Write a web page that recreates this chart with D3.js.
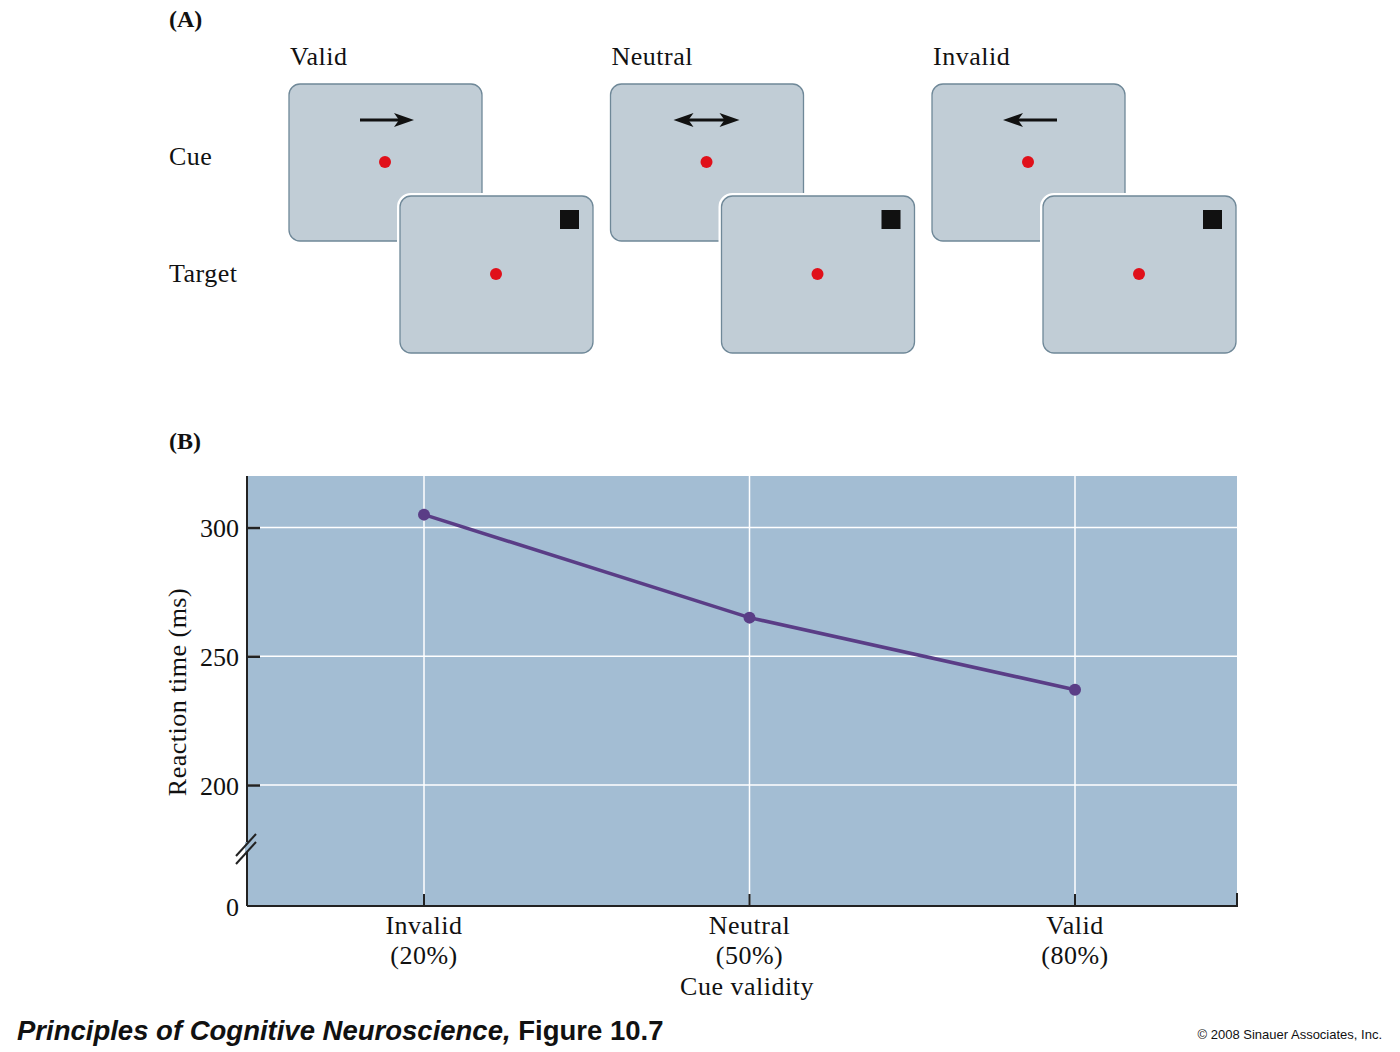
<!DOCTYPE html>
<html><head><meta charset="utf-8">
<script src="https://cdn.jsdelivr.net/npm/d3@7"></script>
<style>body{margin:0;background:#fff}svg{display:block}</style>
</head><body>
<svg id="c" width="1400" height="1052"></svg>
<script>
// ---- data ----
const conditions = ["Valid", "Neutral", "Invalid"];
const cueArrows = ["right", "both", "left"];
const rowLabels = ["Cue", "Target"];
const categories = ["Invalid", "Neutral", "Valid"];
const validityPct = [20, 50, 80];
const pctLabels = ["(20%)", "(50%)", "(80%)"];
const reactionTime = [305, 265, 237];
const yTicks = [0, 200, 250, 300];

const svg = d3.select("#c");
const serif = "'Liberation Serif', 'DejaVu Serif', serif";
const sans = "'Liberation Sans', Arial, sans-serif";
const boxFill = "#c1cdd6", boxStroke = "#6f8898";
const plotFill = "#a3bdd3", lineCol = "#5a3d86";
const FS = 26, LS = 0.5;

function txt(sel) {
  return sel.attr("font-family", serif).attr("font-size", FS).attr("letter-spacing", LS).attr("fill", "#111");
}

// ---- Panel A ----
svg.append("text").attr("x", 169).attr("y", 27).attr("font-family", serif)
  .attr("font-weight", "bold").attr("font-size", 24).attr("fill", "#111").text("(A)");
const rowY = [165, 282];
rowLabels.forEach((t, i) => txt(svg.append("text").attr("x", 169).attr("y", rowY[i])).text(t));

const colX = d3.scalePoint().domain(conditions).range([289, 932]);
const bw = 193, bh = 157, dx = 111, dy = 112;

function arrowHead(g, tipX, y, dir) {
  const L = 20, H = 7, notch = 5;
  const s = dir === "right" ? -1 : 1;
  g.append("path").attr("d",
    `M${tipX},${y} L${tipX + s * L},${y - H} L${tipX + s * (L - notch)},${y} L${tipX + s * L},${y + H} Z`)
    .attr("fill", "#111");
}

conditions.forEach((c, i) => {
  const x0 = colX(c), y0 = 84;
  const g = svg.append("g");
  txt(g.append("text").attr("x", x0 + 1).attr("y", 65)).text(c);
  // cue box
  g.append("rect").attr("x", x0).attr("y", y0).attr("width", bw).attr("height", bh)
    .attr("rx", 11).attr("fill", boxFill).attr("stroke", boxStroke).attr("stroke-width", 1.3);
  const cx = x0 + 96, ay = y0 + 36;
  const a0 = cx - 25, a1 = cx + 29;
  const dir = cueArrows[i];
  let lx0 = a0, lx1 = a1;
  if (dir === "right") { lx1 = a1 - 12; arrowHead(g, a1, ay, "right"); }
  if (dir === "left") { lx0 = a0 + 12; arrowHead(g, a0, ay, "left"); }
  if (dir === "both") {
    const b0 = cx - 33, b1 = cx + 33;
    lx0 = b0 + 12; lx1 = b1 - 12;
    arrowHead(g, b1, ay, "right"); arrowHead(g, b0, ay, "left");
  }
  g.append("line").attr("x1", lx0).attr("x2", lx1).attr("y1", ay).attr("y2", ay)
    .attr("stroke", "#111").attr("stroke-width", 3);
  g.append("circle").attr("cx", cx).attr("cy", y0 + 78).attr("r", 6).attr("fill", "#e0101a");
  // target box
  const tx = x0 + dx, ty = y0 + dy;
  g.append("rect").attr("x", tx).attr("y", ty).attr("width", bw).attr("height", bh)
    .attr("rx", 11).attr("fill", "none").attr("stroke", "#fff").attr("stroke-width", 6);
  g.append("rect").attr("x", tx).attr("y", ty).attr("width", bw).attr("height", bh)
    .attr("rx", 11).attr("fill", boxFill).attr("stroke", boxStroke).attr("stroke-width", 1.3);
  g.append("rect").attr("x", tx + 160).attr("y", ty + 14).attr("width", 19).attr("height", 19)
    .attr("fill", "#111");
  g.append("circle").attr("cx", tx + 96).attr("cy", ty + 78).attr("r", 6).attr("fill", "#e0101a");
});

// ---- Panel B ----
svg.append("text").attr("x", 169).attr("y", 449).attr("font-family", serif)
  .attr("font-weight", "bold").attr("font-size", 24).attr("fill", "#111").text("(B)");

const L = 247, R = 1237, T = 476, B = 906;
const y = d3.scaleLinear().domain([0, 200, 320]).range([B, 785, T]);
const x = d3.scaleLinear().domain([20, 80]).range([424, 1075]);

svg.append("rect").attr("x", L).attr("y", T).attr("width", R - L).attr("height", B - T)
  .attr("fill", plotFill);

// grid
svg.append("g").selectAll("line").data(yTicks.filter(d => d > 0)).join("line")
  .attr("x1", L).attr("x2", R).attr("y1", d => y(d)).attr("y2", d => y(d))
  .attr("stroke", "#fff").attr("stroke-width", 1.5);
svg.append("g").selectAll("line").data(validityPct).join("line")
  .attr("x1", d => x(d)).attr("x2", d => x(d)).attr("y1", T).attr("y2", B)
  .attr("stroke", "#fff").attr("stroke-width", 1.5);

// y axis
const yAxis = d3.axisLeft(y).tickValues(yTicks).tickSize(-13).tickPadding(20)
  .tickFormat(d3.format("d"));
const ya = svg.append("g").attr("transform", `translate(${L},0)`).call(yAxis);
ya.select(".domain").attr("d", `M0,${T}V${B}`).attr("stroke", "#222").attr("stroke-width", 2);
ya.selectAll(".tick line").attr("stroke", "#222").attr("stroke-width", 2.5);
ya.selectAll(".tick").filter(d => d === 0).select("line").remove();
txt(ya.selectAll(".tick text")).attr("x", -8).attr("dy", "0.36em").attr("letter-spacing", 0);

// x axis
const xa = svg.append("g").attr("transform", `translate(0,${B})`);
xa.append("line").attr("x1", L).attr("x2", R + 1).attr("stroke", "#222").attr("stroke-width", 2);
xa.selectAll(".tk").data(validityPct).join("line").attr("class", "tk")
  .attr("x1", d => x(d)).attr("x2", d => x(d)).attr("y1", 0).attr("y2", -12)
  .attr("stroke", "#222").attr("stroke-width", 2);
xa.append("line").attr("x1", R).attr("x2", R).attr("y1", 0).attr("y2", -13)
  .attr("stroke", "#222").attr("stroke-width", 2);
txt(xa.selectAll(".cat").data(categories).join("text").attr("class", "cat")
  .attr("x", (d, i) => x(validityPct[i])).attr("y", 28).attr("text-anchor", "middle")).text(d => d);
txt(xa.selectAll(".pct").data(pctLabels).join("text").attr("class", "pct")
  .attr("x", (d, i) => x(validityPct[i])).attr("y", 58).attr("text-anchor", "middle")).text(d => d);
txt(xa.append("text").attr("x", (L + R) / 2 + 5).attr("y", 89).attr("text-anchor", "middle"))
  .text("Cue validity");

// axis break
const by = 848;
svg.append("rect").attr("x", L - 2).attr("y", by - 6).attr("width", 4).attr("height", 10)
  .attr("fill", plotFill);
[-4, 4].forEach(o => svg.append("line")
  .attr("x1", L - 11).attr("y1", by + 12 + o).attr("x2", L + 9).attr("y2", by - 10 + o)
  .attr("stroke", "#222").attr("stroke-width", 2));

// y label
txt(svg.append("text").attr("transform", `translate(186,692) rotate(-90)`).attr("text-anchor", "middle"))
  .text("Reaction time (ms)");

// line + points
const pts = reactionTime.map((v, i) => [x(validityPct[i]), y(v)]);
svg.append("path").attr("d", d3.line()(pts)).attr("fill", "none")
  .attr("stroke", lineCol).attr("stroke-width", 3.5);
svg.append("g").selectAll("circle").data(pts).join("circle")
  .attr("cx", d => d[0]).attr("cy", d => d[1]).attr("r", 6).attr("fill", lineCol);

// footer
const ft = svg.append("text").attr("x", 17).attr("y", 1040).attr("font-family", sans)
  .attr("font-size", 27.5).attr("font-weight", "bold").attr("fill", "#111");
ft.append("tspan").attr("font-style", "italic").text("Principles of Cognitive Neuroscience,");
ft.append("tspan").text(" Figure 10.7");
svg.append("text").attr("x", 1382).attr("y", 1039).attr("text-anchor", "end")
  .attr("font-family", sans).attr("font-size", 13).attr("fill", "#111")
  .text("© 2008 Sinauer Associates, Inc.");
</script>
</body></html>
